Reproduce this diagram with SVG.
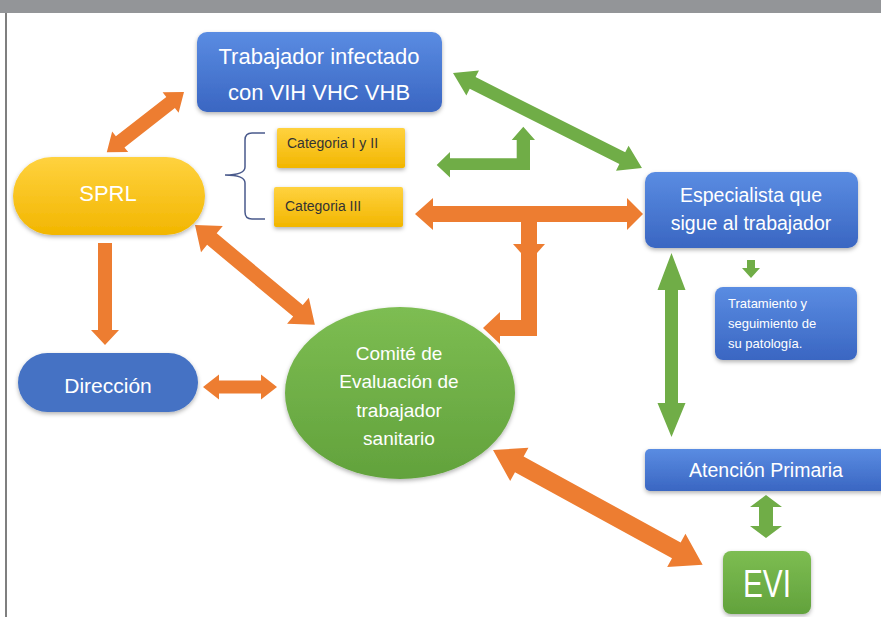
<svg xmlns="http://www.w3.org/2000/svg" width="881" height="617" viewBox="0 0 881 617">
<defs>
<linearGradient id="gBlue" x1="0" y1="0" x2="0" y2="1"><stop offset="0" stop-color="#5a8ce2"/><stop offset="1" stop-color="#3a66c2"/></linearGradient>
<linearGradient id="gYel" x1="0" y1="0" x2="0" y2="1"><stop offset="0" stop-color="#ffd23f"/><stop offset="1" stop-color="#f2b600"/></linearGradient>
<linearGradient id="gGreen" x1="0" y1="0" x2="0" y2="1"><stop offset="0" stop-color="#7dbd52"/><stop offset="1" stop-color="#62a23c"/></linearGradient>
<filter id="sh" x="-10%" y="-10%" width="120%" height="130%"><feDropShadow dx="0" dy="2" stdDeviation="2" flood-color="#000" flood-opacity="0.3"/></filter>
<style>
.blue{fill:url(#gBlue);filter:url(#sh)}
.yel{fill:url(#gYel);filter:url(#sh)}
.grn{fill:url(#gGreen);filter:url(#sh)}
.t{font-family:"Liberation Sans",Arial,sans-serif;fill:#fff;text-anchor:middle}
.tc{font-family:"Liberation Sans",Arial,sans-serif;fill:#333;font-size:14px}
.or{fill:#ED7D31}
.gr{fill:#70AD47}
</style>
</defs>
<rect x="0" y="0" width="881" height="617" fill="#fff"/>
<rect x="0" y="0" width="881" height="13" fill="#939598"/>
<line x1="6" y1="13" x2="6" y2="617" stroke="#555" stroke-width="1.5"/>

<g id="connectors">
<g transform="translate(184,92) rotate(142)"><polygon class="or" points="0,0 17,-13 17,-7 81,-7 81,-13 98,0 81,13 81,7 17,7 17,13"/></g>
<g transform="translate(453,73) rotate(26.7)"><polygon class="gr" points="0,0 22,-14 22,-6.5 189.5,-6.5 189.5,-14 211.5,0 189.5,14 189.5,6.5 22,6.5 22,14"/></g>
<g transform="translate(195,225) rotate(39.8)"><polygon class="or" points="0,0 22,-17 22,-7.5 134,-7.5 134,-17 156,0 134,17 134,7.5 22,7.5 22,17"/></g>
<g transform="translate(493,450) rotate(28.7)"><polygon class="or" points="0,0 30,-19 30,-9 209,-9 209,-19 239,0 209,19 209,9 30,9 30,19"/></g>
<polygon class="or" points="203,387 219,374.5 219,380.5 261,380.5 261,374.5 277,387 261,399.5 261,393.5 219,393.5 219,399.5"/>
<polygon class="gr" points="671.5,253 685.5,290 678,290 678,403 685.5,403 671.5,437 657.5,403 665,403 665,290 657.5,290"/>
<polygon class="gr" points="766,495 782,507 773,507 773,526 782,526 766,538 750,526 759,526 759,507 750,507"/>
<polygon class="gr" points="747,260 755,260 755,268 760,268 751,278 742,268 747,268"/>
<polygon class="or" points="415,214 433,198 433,206 627,206 627,198 643,214 627,230 627,222 433,222 433,230"/>
<polygon class="or" points="521,222 537,222 537,336 500,336 500,344 483,328 500,312 500,320 521,320"/>
<polygon class="or" points="513,244 545,244 529,262"/>
<polygon class="gr" points="436.7,165 450,152 450,158.3 516.7,158.3 516.7,140 511.7,140 523.3,126.7 535,140 530,140 530,170 450,170 450,177.5"/>
<polygon class="or" points="98,243 112,243 112,330 119,330 105,345 91,330 98,330"/>
<path d="M265,133 H252 Q245,133 245,140 V167 Q245,175 225,175 Q245,175 245,183 V212 Q245,219 252,219 H265" fill="none" stroke="#4a5a8c" stroke-width="1.5"/>
</g>

<g id="trabajador">
<rect class="blue" x="197" y="32" width="245" height="80" rx="10"/>
<text class="t" x="319" y="64" font-size="22">Trabajador infectado</text>
<text class="t" x="319" y="100" font-size="22">con VIH VHC VHB</text>
</g>
<g id="cat12">
<rect class="yel" x="277" y="128" width="128" height="40" rx="2"/>
<text class="tc" x="287" y="148">Categoria I y II</text>
</g>
<g id="cat3">
<rect class="yel" x="274" y="187" width="129" height="40" rx="2"/>
<text class="tc" x="285" y="211">Categoria III</text>
</g>
<g id="sprl">
<rect class="yel" x="13" y="157" width="192" height="78" rx="39"/>
<text class="t" x="108" y="201" font-size="22">SPRL</text>
</g>
<g id="direccion">
<rect x="18" y="353" width="180" height="59" rx="29.5" fill="#4472C4" filter="url(#sh)"/>
<text class="t" x="108" y="393" font-size="21">Dirección</text>
</g>
<g id="comite">
<ellipse class="grn" cx="400" cy="393" rx="115" ry="86"/>
<text class="t" x="399" y="360" font-size="19">Comité de</text>
<text class="t" x="399" y="388" font-size="19">Evaluación de</text>
<text class="t" x="399" y="417" font-size="19">trabajador</text>
<text class="t" x="399" y="445" font-size="19">sanitario</text>
</g>
<g id="especialista">
<rect class="blue" x="645" y="172" width="213" height="76" rx="10"/>
<text class="t" x="751" y="202" font-size="19.5">Especialista que</text>
<text class="t" x="751" y="230" font-size="19.5">sigue al trabajador</text>
</g>
<g id="tratamiento">
<rect class="blue" x="715" y="287" width="142" height="73" rx="8"/>
<text class="t" x="728" y="308" font-size="13" style="text-anchor:start">Tratamiento y</text>
<text class="t" x="728" y="328" font-size="13" style="text-anchor:start">seguimiento de</text>
<text class="t" x="728" y="348" font-size="13" style="text-anchor:start">su patología.</text>
</g>
<g id="atencion">
<rect class="blue" x="645" y="449" width="250" height="42" rx="5"/>
<text class="t" x="766" y="477" font-size="19.5">Atención Primaria</text>
</g>
<g id="evi">
<rect class="grn" x="723" y="551" width="88" height="63" rx="8"/>
<text class="t" x="767" y="597" font-size="38" textLength="48" lengthAdjust="spacingAndGlyphs">EVI</text>
</g>
</svg>
